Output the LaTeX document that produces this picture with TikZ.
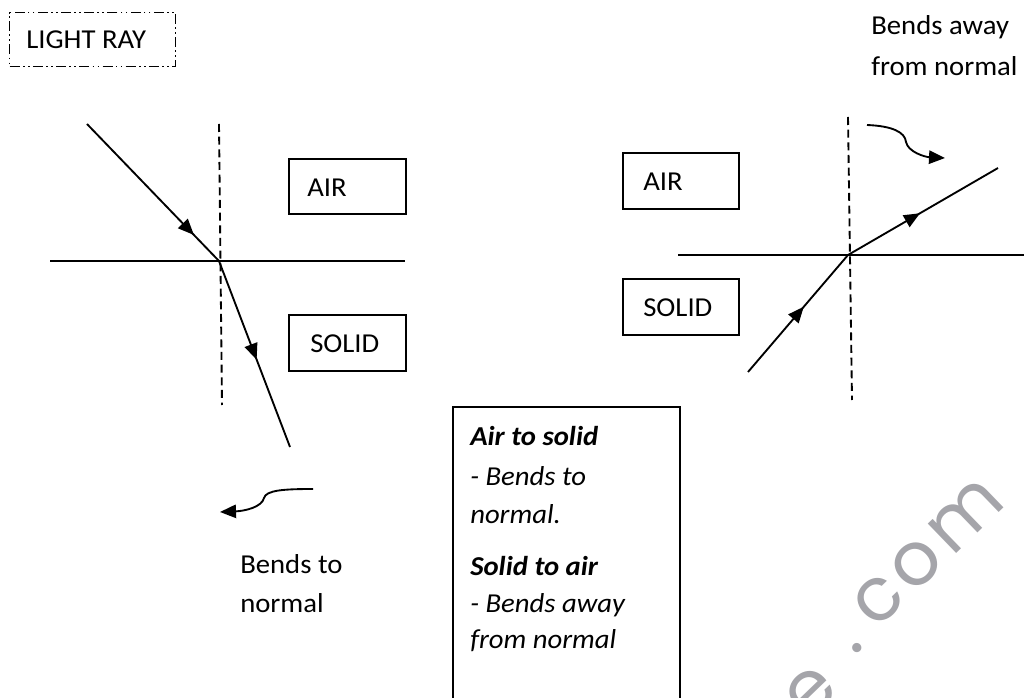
\documentclass[tikz,border=0pt]{standalone}
\usepackage{fontspec}
\setmainfont{Carlito}[FakeStretch=1.05]
\newfontfamily\wmfont{Poppins}[LetterSpace=8]
\usetikzlibrary{arrows.meta,decorations.markings}
\definecolor{wmgray}{RGB}{165,165,170}
\tikzset{
  ray/.style={line width=1.4pt},
  normalline/.style={line width=1.4pt, dash pattern=on 6pt off 3.5pt},
  surface/.style={line width=1.4pt},
  boxst/.style={draw, line width=1.3pt, inner sep=0pt, anchor=north west},
  lbl/.style={anchor=base west, inner sep=0pt, font=\fontsize{20.5}{24}\selectfont},
  tip/.style={-{Triangle[length=12pt,width=10pt]}},
  midarrow/.style={postaction={decorate}, decoration={markings,
     mark=at position #1 with {\arrow{Triangle[length=12pt,width=10pt]}}}},
  wm/.style={text=wmgray, font=\wmfont\fontsize{56}{56}\selectfont, rotate=44, inner sep=0pt},
}
\begin{document}
\begin{tikzpicture}[x=0.75pt,y=-0.75pt]
\useasboundingbox (0,0) rectangle (1024,698);
\clip (0,0) rectangle (1024,698);

% watermark
\node[wm] (wme) at (811,693) {e};
\node[wm] (wmdot) at (857,648) {.};
\node[wm] (wmcom) at (928,553) {com};

% LIGHT RAY legend
\node (lr) [draw, line width=1.1pt, dash pattern=on 7.5pt off 2.5pt on 1.2pt off 2.5pt on 1.2pt off 2.5pt,
  anchor=north west, minimum width=166*0.75pt, minimum height=54*0.75pt, inner sep=0pt] at (9,12) {};
\node[lbl] (lrt) at (26,49) {LIGHT RAY};

% ---------- left diagram ----------
\coordinate (Lin) at (87,124);
\coordinate (Lo) at (219,261);
\coordinate (Lout) at (290,447);
\coordinate (LnT) at (219,124);
\coordinate (LnB) at (222,405);
\coordinate (LsA) at (50,261);
\coordinate (LsB) at (405,261);
\draw[surface] (LsA) -- (LsB);
\draw[normalline] (LnT) -- (LnB);
\draw[ray, midarrow=0.81] (Lin) -- (Lo);
\draw[ray, midarrow=0.53] (Lo) -- (Lout);

\node (Lair) [boxst, minimum width=117*0.75pt, minimum height=55*0.75pt] at (288,158) {};
\node[lbl] (Lairt) at (307,197) {AIR};
\node (Lsol) [boxst, minimum width=117*0.75pt, minimum height=56*0.75pt] at (288,314) {};
\node[lbl] (Lsolt) at (310,353) {SOLID};

\coordinate (LcA) at (313,489);
\coordinate (LcB) at (220,512);
\draw[ray, tip] (LcA) .. controls (285,489) and (266,490) .. (264,498)
   .. controls (262,507) and (245,511) .. (LcB);
\node[lbl] (Lb1) at (240,573) {Bends to};
\node[lbl] (Lb2) at (240,612) {normal};

% ---------- right diagram ----------
\coordinate (Rin) at (748,372);
\coordinate (Ro) at (848,255);
\coordinate (Rout) at (998,168);
\coordinate (RnT) at (848,117);
\coordinate (RnB) at (852,400);
\coordinate (RsA) at (678,255);
\coordinate (RsB) at (1024,255);
\draw[surface] (RsA) -- (RsB);
\draw[normalline] (RnT) -- (RnB);
\draw[ray, midarrow=0.56] (Rin) -- (Ro);
\draw[ray, midarrow=0.48] (Ro) -- (Rout);

\node (Rair) [boxst, minimum width=116*0.75pt, minimum height=56*0.75pt] at (622,152) {};
\node[lbl] (Rairt) at (643,191) {AIR};
\node (Rsol) [boxst, minimum width=116*0.75pt, minimum height=56*0.75pt] at (622,278) {};
\node[lbl] (Rsolt) at (643,317) {SOLID};

\coordinate (RcA) at (867,125);
\coordinate (RcB) at (945,158);
\draw[ray, tip] (RcA) .. controls (892,126) and (905,132) .. (906,142)
   .. controls (908,152) and (925,157) .. (RcB);
\node[lbl] (Rb1) at (871,35) {Bends away};
\node[lbl] (Rb2) at (871,76) {from normal};

% ---------- middle summary box ----------
\node (sum) [boxst, minimum width=227*0.75pt, minimum height=320*0.75pt] at (452,406) {};
\node[lbl] (s1) at (470,445) {\bfseries\itshape Air to solid};
\node[lbl] (s2) at (470,485) {\itshape - Bends to};
\node[lbl] (s3) at (470,523) {\itshape normal.};
\node[lbl] (s4) at (470,575) {\bfseries\itshape Solid to air};
\node[lbl] (s5) at (470,612) {\itshape - Bends away};
\node[lbl] (s6) at (470,648) {\itshape from normal};
\end{tikzpicture}
\end{document}
